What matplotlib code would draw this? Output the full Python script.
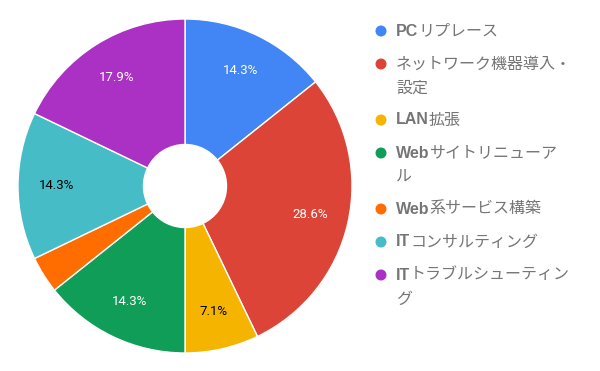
import numpy as np
import matplotlib.pyplot as plt
from matplotlib.patches import Circle

categories = ["PCリプレース", "ネットワーク機器導入・設定", "LAN拡張", "Webサイトリニューアル",
              "Web系サービス構築", "ITコンサルティング", "ITトラブルシューティング"]
counts = [4, 8, 2, 4, 1, 4, 5]
colors = ["#4285F4", "#DB4437", "#F4B400", "#0F9D58", "#FF6D01", "#46BDC6", "#AB30C4"]
label_colors = ["white", "white", "black", "white", "white", "black", "white"]
# legend text split in bold latin prefix + wrapped rest
legend_prefix = ["PC", "", "LAN", "Web", "Web", "IT", "IT"]
legend_rest = ["リプレース", "ネットワーク機器導入・\n設定", "拡張", "サイトリニューア\nル",
               "系サービス構築", "コンサルティング", "トラブルシューティン\nグ"]

W, H = 600, 371
fig = plt.figure(figsize=(W / 100, H / 100), dpi=100)

cx, cy, R = 185, 186, 167
ax = fig.add_axes([(cx - R) / W, (H - cy - R) / H, 2 * R / W, 2 * R / H])
wedges, _ = ax.pie(counts, colors=colors, startangle=90, counterclock=False, radius=1,
                   wedgeprops=dict(width=1 - 41.5 / R, edgecolor="white", linewidth=1))
ax.set_xlim(-1, 1)
ax.set_ylim(-1, 1)
ax.set_aspect("equal")
ax.axis("off")

total = sum(counts)
for w, c, lc in zip(wedges, counts, label_colors):
    frac = c / total
    if frac < 0.05:
        continue
    ang = np.deg2rad((w.theta1 + w.theta2) / 2)
    ax.text(0.77 * np.cos(ang), 0.77 * np.sin(ang), f"{frac * 100:.1f}%",
            ha="center", va="center", fontsize=9.5, color=lc, family="Roboto")

# legend drawn in pixel coordinates
lg = fig.add_axes([0, 0, 1, 1])
lg.set_xlim(0, W)
lg.set_ylim(H, 0)
lg.axis("off")
renderer = fig.canvas.get_renderer()
item_y = [31, 64, 120, 153, 209, 242, 275]
text_col = "#757575"
fs = 11.5
for i in range(len(categories)):
    y = item_y[i]
    lg.add_patch(Circle((381, y), 5.5, color=colors[i], lw=0))
    x = 396
    if legend_prefix[i]:
        t = lg.text(x, y, legend_prefix[i], fontsize=fs, weight="bold", color=text_col,
                    family="Liberation Sans", va="center", ha="left")
        x += t.get_window_extent(renderer).width
    lines = legend_rest[i].split("\n")
    lg.text(x, y, lines[0], fontsize=fs, color=text_col,
            family="Noto Sans CJK JP", va="center", ha="left")
    if len(lines) > 1:
        lg.text(396, y + 24, lines[1], fontsize=fs, color=text_col,
                family="Noto Sans CJK JP", va="center", ha="left")

fig.savefig("out.png", dpi=100)
